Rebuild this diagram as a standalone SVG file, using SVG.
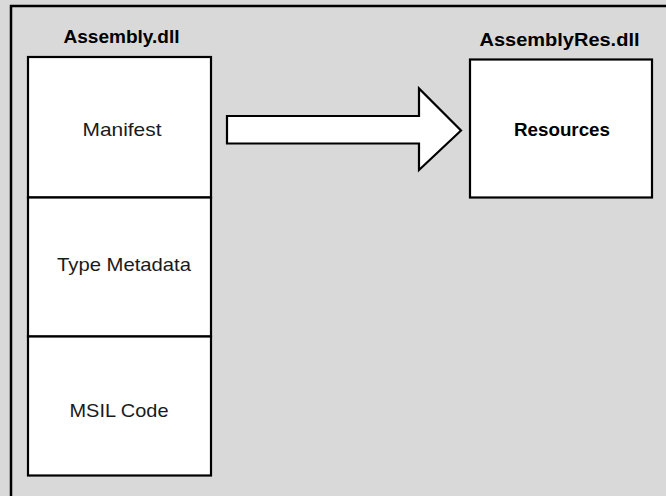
<svg xmlns="http://www.w3.org/2000/svg" width="666" height="496" viewBox="0 0 666 496">
  <style>
    .box { fill: #ffffff; stroke: #000000; stroke-width: 2.2; }
    .title { font-family: "Liberation Sans", Arial, sans-serif; font-weight: bold; font-size: 19px; fill: #000; text-anchor: middle; }
    .label { font-family: "Liberation Sans", Arial, sans-serif; font-size: 19px; fill: #1a1a1a; text-anchor: middle; }
    .blabel { font-family: "Liberation Sans", Arial, sans-serif; font-weight: bold; font-size: 19px; fill: #000; text-anchor: middle; }
  </style>
  <rect x="0" y="0" width="666" height="496" fill="#d9d9d9"/>
  <rect x="11" y="6" width="700" height="600" fill="#d9d9d9" stroke="#000" stroke-width="2.5"/>

  <g id="assembly">
    <text class="title" x="121.5" y="42.7" textLength="116" lengthAdjust="spacingAndGlyphs">Assembly.dll</text>
    <g id="manifest">
      <rect class="box" x="28" y="57" width="183" height="140.5"/>
      <text class="label" x="122" y="135.7" textLength="79" lengthAdjust="spacingAndGlyphs">Manifest</text>
    </g>
    <g id="typemetadata">
      <rect class="box" x="28" y="197.5" width="183" height="139"/>
      <text class="label" x="124" y="270.7" textLength="134" lengthAdjust="spacingAndGlyphs">Type Metadata</text>
    </g>
    <g id="msilcode">
      <rect class="box" x="28" y="336.5" width="183" height="139"/>
      <text class="label" x="119" y="416.7" textLength="99" lengthAdjust="spacingAndGlyphs">MSIL Code</text>
    </g>
  </g>

  <g id="connectors">
    <polygon points="227,116 419,116 419,88.5 461,130.5 419,170 419,143.5 227,143.5" fill="#ffffff" stroke="#000" stroke-width="2.2" stroke-linejoin="miter"/>
  </g>

  <g id="assemblyres">
    <text class="title" x="559.5" y="46.3" textLength="160" lengthAdjust="spacingAndGlyphs">AssemblyRes.dll</text>
    <g id="resources">
      <rect class="box" x="470" y="59.5" width="182" height="138"/>
      <text class="blabel" x="562" y="135.7" textLength="96" lengthAdjust="spacingAndGlyphs">Resources</text>
    </g>
  </g>
</svg>
